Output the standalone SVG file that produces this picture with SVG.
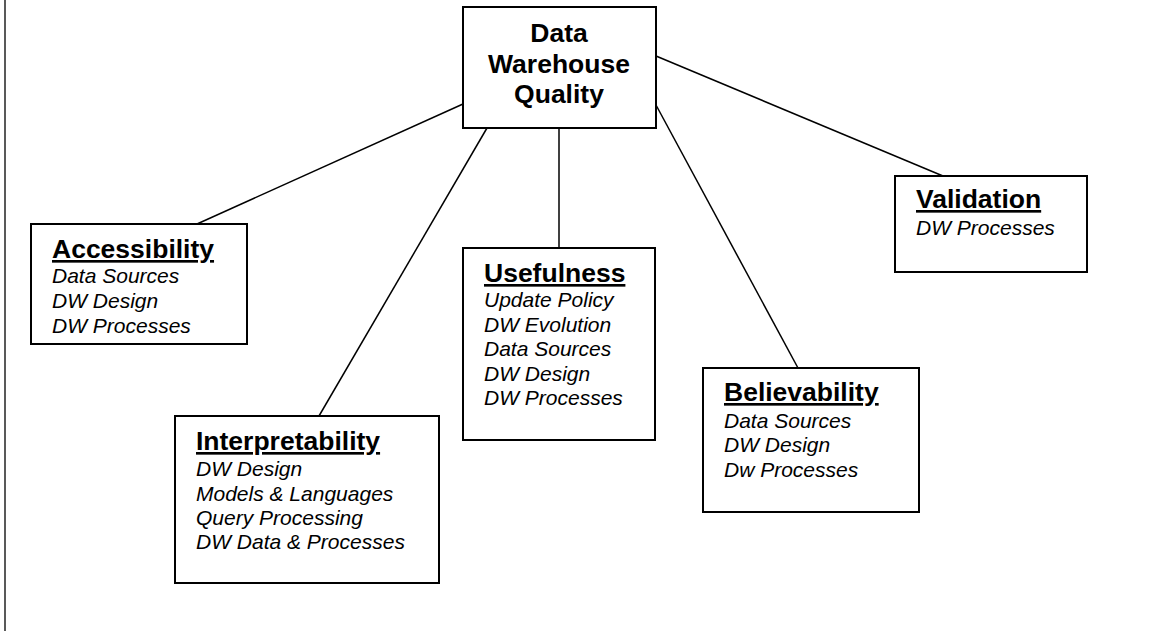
<svg xmlns="http://www.w3.org/2000/svg" width="1154" height="631" viewBox="0 0 1154 631">
<style>
.box{fill:#fff;stroke:#000;stroke-width:2}
.con line{stroke:#000;stroke-width:1.5}
.root{font-family:"Liberation Sans",Arial,sans-serif;font-weight:bold;font-size:26.5px;text-anchor:middle}
.title{font-family:"Liberation Sans",Arial,sans-serif;font-weight:bold;font-size:26.5px;text-decoration:underline}
.item{font-family:"Liberation Sans",Arial,sans-serif;font-style:italic;font-size:21px}
</style>
<rect width="1154" height="631" fill="#fff"/>
<line x1="5" y1="0" x2="5" y2="631" stroke="#222" stroke-width="1.5"/>
<g id="connectors" class="con">
<line x1="463" y1="104" x2="197" y2="224"/>
<line x1="487" y1="128" x2="319" y2="416"/>
<line x1="559" y1="128" x2="559" y2="248"/>
<line x1="656" y1="105" x2="798" y2="368"/>
<line x1="656" y1="56" x2="943" y2="176"/>
</g>
<g id="dwq">
<rect class="box" x="463" y="7" width="193" height="121"/>
<text class="root" x="559" y="42">Data</text>
<text class="root" x="559" y="73">Warehouse</text>
<text class="root" x="559" y="103">Quality</text>
</g>
<g id="accessibility">
<rect class="box" x="31" y="224" width="216" height="120"/>
<text class="title" x="52" y="258">Accessibility</text>
<text class="item" x="52" y="283">Data Sources</text>
<text class="item" x="52" y="308">DW Design</text>
<text class="item" x="52" y="333">DW Processes</text>
</g>
<g id="interpretability">
<rect class="box" x="175" y="416" width="264" height="167"/>
<text class="title" x="196" y="450">Interpretability</text>
<text class="item" x="196" y="476">DW Design</text>
<text class="item" x="196" y="501">Models &amp; Languages</text>
<text class="item" x="196" y="525">Query Processing</text>
<text class="item" x="196" y="549">DW Data &amp; Processes</text>
</g>
<g id="usefulness">
<rect class="box" x="463" y="248" width="192" height="192"/>
<text class="title" x="484" y="282">Usefulness</text>
<text class="item" x="484" y="307">Update Policy</text>
<text class="item" x="484" y="332">DW Evolution</text>
<text class="item" x="484" y="356">Data Sources</text>
<text class="item" x="484" y="381">DW Design</text>
<text class="item" x="484" y="405">DW Processes</text>
</g>
<g id="believability">
<rect class="box" x="703" y="368" width="216" height="144"/>
<text class="title" x="724" y="401">Believability</text>
<text class="item" x="724" y="428">Data Sources</text>
<text class="item" x="724" y="452">DW Design</text>
<text class="item" x="724" y="477">Dw Processes</text>
</g>
<g id="validation">
<rect class="box" x="895" y="176" width="192" height="96"/>
<text class="title" x="916" y="208">Validation</text>
<text class="item" x="916" y="235">DW Processes</text>
</g>
</svg>
